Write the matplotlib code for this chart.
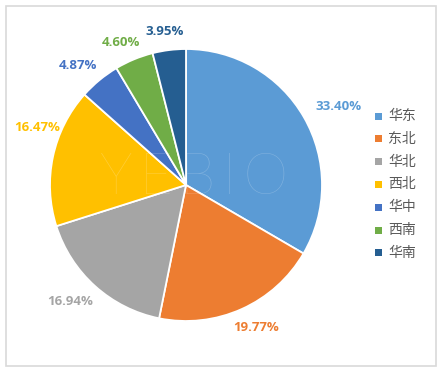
import matplotlib
matplotlib.use("Agg")
import matplotlib.pyplot as plt
import numpy as np
from matplotlib.patches import Rectangle

plt.rcParams['font.family'] = ['Noto Sans CJK SC', 'DejaVu Sans']

regions = ['华东', '东北', '华北', '西北', '华中', '西南', '华南']
shares = [33.40, 19.77, 16.94, 16.47, 4.87, 4.60, 3.95]
colors = ['#5B9BD5', '#ED7D31', '#A5A5A5', '#FFC000', '#4472C4', '#70AD47', '#255E91']

# label centers in pie-radius units (layout only)
label_xy = [(1.118, 0.574), (0.518, -1.051), (-0.853, -0.860), (-1.092, 0.426),
            (-0.798, 0.882), (-0.478, 1.051), (-0.154, 1.132)]

W, H = 442, 371
fig = plt.figure(figsize=(W / 100, H / 100), dpi=100)
fig.patch.set_facecolor('white')
ax = fig.add_axes([0, 0, 1, 1])

cx, cy, R = 186, 185, 136
wedges, _ = ax.pie(shares, colors=colors, startangle=90, counterclock=False,
                   radius=1.0, wedgeprops=dict(edgecolor='white', linewidth=1.3))
ax.set_aspect('auto')
ax.set_xlim(-cx / R, (W - cx) / R)
ax.set_ylim(-(H - cy) / R, cy / R)
ax.axis('off')

for (lx, ly), v, c in zip(label_xy, shares, colors):
    ax.text(lx, ly, f'{v:.2f}%', color=c, fontsize=9.5, fontweight='bold',
            ha='center', va='center', family=['Open Sans', 'DejaVu Sans'])

# watermark
ax.text((194 - cx) / R, (cy - 178) / R, 'Y\u2009E\u2009B\u2009I\u2009O', color='white',
        alpha=0.22, fontsize=41, ha='center', va='center',
        family=['Lato', 'DejaVu Sans'], fontweight='light')

# legend
leg_y0, leg_dy = 116, 22.8
for i, (name, c) in enumerate(zip(regions, colors)):
    py = leg_y0 + i * leg_dy
    fig.patches.append(Rectangle(((378 - 3.5) / W, 1 - (py + 3.5) / H), 7 / W, 7 / H,
                                 transform=fig.transFigure, facecolor=c, edgecolor='none'))
    fig.text(388 / W, 1 - py / H, name, color='#595959', fontsize=10,
             ha='left', va='center')

# border
fig.patches.append(Rectangle((6 / W, 5 / H), 430 / W, 360 / H, transform=fig.transFigure,
                             facecolor='none', edgecolor='#D9D9D9', linewidth=1.2))

fig.savefig('out.png', dpi=100)
